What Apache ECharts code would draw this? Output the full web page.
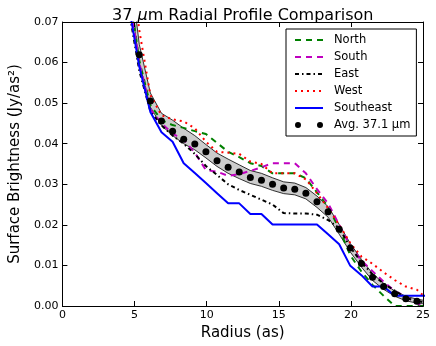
<!DOCTYPE html>
<html>
<head>
<meta charset="utf-8">
<script src="https://cdn.jsdelivr.net/npm/echarts@6/dist/echarts.min.js"></script>
<style>
html,body{margin:0;padding:0;background:#fff;}
#chart{width:436px;height:346px;}
</style>
</head>
<body>
<div id="chart"></div>
<script>
// Radius bins (arcsec)
const radius = [4.56,5.33,6.10,6.87,7.64,8.41,9.18,9.95,10.72,11.49,12.26,13.03,13.80,14.57,15.34,16.11,16.88,17.65,18.42,19.19,19.96,20.73,21.50,22.27,23.04,23.81,24.58,25.35];
const north = [0.080,0.0605,0.0495,0.0458,0.0446,0.0439,0.0431,0.0424,0.0402,0.0380,0.0367,0.0352,0.0345,0.0327,0.0327,0.0327,0.0315,0.0280,0.0245,0.0190,0.0125,0.0085,0.0052,0.0025,0.0000,0.0000,0.0000,0.0000];
const south = [0.078,0.0600,0.0485,0.0450,0.0425,0.0410,0.0378,0.0335,0.0331,0.0321,0.0325,0.0333,0.0342,0.0352,0.0352,0.0352,0.0327,0.0288,0.0253,0.0200,0.0148,0.0112,0.0086,0.0060,0.0037,0.0023,0.0007,-0.0008];
const east = [0.074,0.0580,0.0480,0.0445,0.0420,0.0400,0.0375,0.0345,0.0323,0.0300,0.0286,0.0274,0.0262,0.0250,0.0229,0.0228,0.0228,0.0225,0.0212,0.0192,0.0145,0.0108,0.0078,0.0055,0.0038,0.0020,0.0012,0.0008];
const west = [0.090,0.0680,0.0520,0.0470,0.0460,0.0455,0.0438,0.0405,0.0380,0.0378,0.0375,0.0356,0.0350,0.0327,0.0327,0.0327,0.0312,0.0278,0.0241,0.0200,0.0155,0.0122,0.0104,0.0083,0.0064,0.0048,0.0040,0.0015];
const southeast = [0.075,0.0590,0.0478,0.0428,0.0405,0.0352,0.0328,0.0303,0.0278,0.0253,0.0253,0.0227,0.0227,0.0201,0.0201,0.0201,0.0201,0.0201,0.0177,0.0152,0.0099,0.0076,0.0048,0.0048,0.0025,0.0025,0.0025,0.0025];
const average = [0.083,0.0619,0.0505,0.0456,0.0431,0.0411,0.0399,0.0380,0.0358,0.0342,0.0330,0.0317,0.0310,0.0300,0.0291,0.0288,0.0278,0.0257,0.0232,0.0189,0.0143,0.0105,0.0071,0.0048,0.0030,0.0018,0.0012];
const bandUpper = [0.087,0.0645,0.0525,0.0475,0.0458,0.0438,0.0420,0.0398,0.0377,0.0362,0.0348,0.0334,0.0327,0.0316,0.0306,0.0303,0.0292,0.0271,0.0245,0.0201,0.0154,0.0115,0.0080,0.0056,0.0037,0.0024,0.0017,0.0012];
const bandLower = [0.080,0.0600,0.0490,0.0445,0.0420,0.0400,0.0385,0.0365,0.0344,0.0327,0.0314,0.0302,0.0295,0.0285,0.0277,0.0274,0.0264,0.0243,0.0219,0.0177,0.0133,0.0096,0.0063,0.0041,0.0024,0.0013,0.0007,0.0004];
const xTicks = {min:0, max:25, interval:5};
const yTicks = {min:0, max:0.07, interval:0.01};

const FONT = 'DejaVu Sans';
const pairs = arr => arr.map((v,i) => [radius[i], v]);

const chart = echarts.init(document.getElementById('chart'), null, {renderer:'canvas'});

const axisCommon = {
  splitLine:{show:false},
  axisLine:{show:true, onZero:false, lineStyle:{color:'#000', width:1}},
  axisTick:{show:true, inside:true, length:5, lineStyle:{color:'#000', width:1}},
  z:5
};
const noSym = {itemStyle:{opacity:0}};

function renderBand(params, api) {
  if (params.dataIndex !== 0) return null;
  const pts = [];
  for (let i = 0; i < radius.length; i++) pts.push(api.coord([radius[i], bandUpper[i]]));
  for (let i = radius.length - 1; i >= 0; i--) pts.push(api.coord([radius[i], bandLower[i]]));
  const cs = params.coordSys;
  return {
    type:'polygon',
    shape:{points:pts},
    style:{fill:'#cccccc', stroke:null},
    clipPath:{type:'rect', shape:{x:cs.x, y:cs.y, width:cs.width, height:cs.height}}
  };
}

const option = {
  backgroundColor:'#fff',
  animation:false,
  title:{
    text:'37 {i|μ}m Radial Profile Comparison',
    left:107, top:3,
    textStyle:{fontFamily:FONT, fontSize:16, fontWeight:'normal', color:'#000',
      rich:{i:{fontFamily:FONT, fontSize:16, fontStyle:'italic', color:'#000'}}}
  },
  grid:{left:56, right:13, top:22, bottom:40},
  xAxis:[
    Object.assign({type:'value', position:'bottom', min:xTicks.min, max:xTicks.max, interval:xTicks.interval,
      axisLabel:{fontFamily:FONT, fontSize:11, color:'#000', margin:4},
      name:'Radius (as)', nameLocation:'middle', nameGap:19,
      nameTextStyle:{fontFamily:FONT, fontSize:15, color:'#000', verticalAlign:'top'}}, axisCommon),
    Object.assign({type:'value', position:'top', min:xTicks.min, max:xTicks.max, interval:xTicks.interval,
      axisLabel:{show:false}}, axisCommon)
  ],
  yAxis:[
    Object.assign({type:'value', position:'left', min:yTicks.min, max:yTicks.max, interval:yTicks.interval,
      axisLabel:{fontFamily:FONT, fontSize:11, color:'#000', margin:4, formatter:v => v.toFixed(2)},
      name:'Surface Brightness (Jy/as²)', nameLocation:'middle', nameGap:34,
      nameTextStyle:{fontFamily:FONT, fontSize:15, color:'#000'}}, axisCommon),
    Object.assign({type:'value', position:'right', min:yTicks.min, max:yTicks.max, interval:yTicks.interval,
      axisLabel:{show:false}}, axisCommon)
  ],
  legend:{
    orient:'vertical', left:286, top:29,
    padding:[5,6,5,8], itemWidth:28, itemHeight:6, itemGap:5,
    borderColor:'#000', borderWidth:1, backgroundColor:'#fff',
    textStyle:{fontFamily:FONT, fontSize:11.5, color:'#000', padding:[0,0,0,6]},
    data:[
      Object.assign({name:'North'}, noSym),
      Object.assign({name:'South'}, noSym),
      Object.assign({name:'East'}, noSym),
      Object.assign({name:'West'}, noSym),
      Object.assign({name:'Southeast'}, noSym),
      {name:'Avg. 37.1 μm', icon:'path://M0,3A3,3,0,1,1,6,3A3,3,0,1,1,0,3ZM22,3A3,3,0,1,1,28,3A3,3,0,1,1,22,3Z', itemStyle:{color:'#000', opacity:1}}
    ]
  },
  series:[
    {name:'bandFill', type:'custom', renderItem:renderBand, data:pairs(bandUpper), silent:true, z:1, clip:true,
      encode:{x:0, y:1}},
    {name:'bandLower', type:'line', data:pairs(bandLower), symbol:'none', silent:true, z:2,
      lineStyle:{color:'#000', width:0.8}},
    {name:'bandUpper', type:'line', data:pairs(bandUpper), symbol:'none', silent:true, z:2,
      lineStyle:{color:'#000', width:0.8}},
    {name:'North', type:'line', data:pairs(north), symbol:'none', z:3,
      lineStyle:{color:'#008000', width:2, type:[6,5]}},
    {name:'South', type:'line', data:pairs(south), symbol:'none', z:3,
      lineStyle:{color:'#bf00bf', width:2, type:[6,5]}},
    {name:'East', type:'line', data:pairs(east), symbol:'none', z:3,
      lineStyle:{color:'#000000', width:2, type:[4,3,1.5,3]}},
    {name:'West', type:'line', data:pairs(west), symbol:'none', z:3,
      lineStyle:{color:'#ff0000', width:2, type:[2,4]}},
    {name:'Southeast', type:'line', data:pairs(southeast), symbol:'none', z:3,
      lineStyle:{color:'#0000ff', width:2}},
    {name:'Avg. 37.1 μm', type:'scatter', data:average.map((v,i)=>[radius[i], v]),
      symbol:'circle', symbolSize:7, itemStyle:{color:'#000', opacity:1}, z:6, clip:true}
  ]
};
chart.setOption(option);
</script>
</body>
</html>
